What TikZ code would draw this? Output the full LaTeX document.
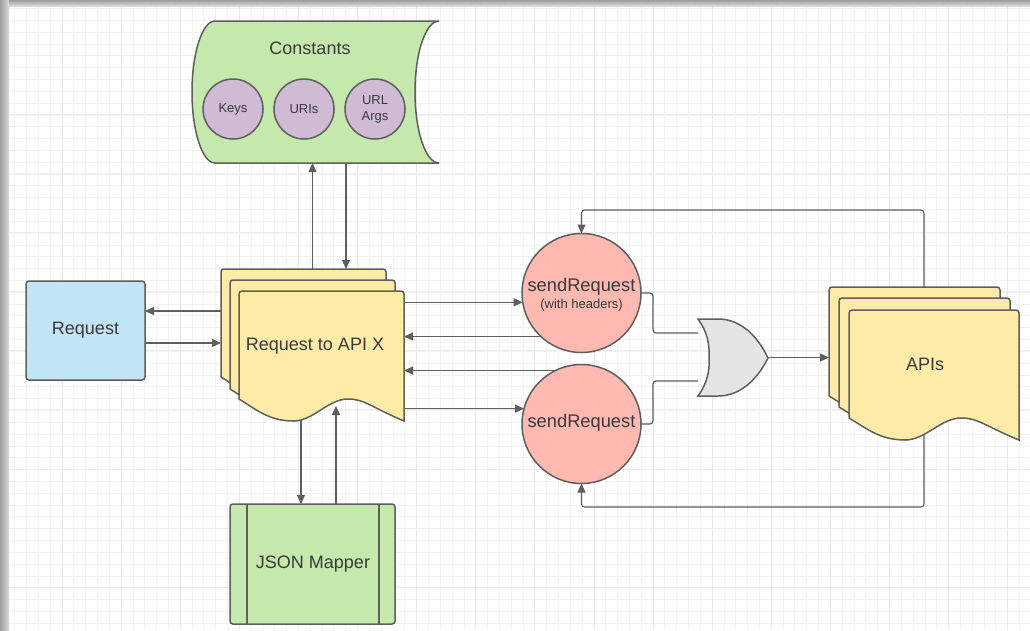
\documentclass[tikz,border=0pt]{standalone}
\usepackage{fontspec}
\setmainfont{Liberation Sans}
\usetikzlibrary{arrows.meta}
\definecolor{strokegray}{HTML}{5E5E5E}
\definecolor{textgray}{HTML}{3A3A3A}
\definecolor{mappergreen}{HTML}{C5E8AC}
\definecolor{keypurple}{HTML}{CFBBD3}
\definecolor{sheetyellow}{HTML}{FFEBA8}
\definecolor{sendred}{HTML}{FFB9B1}
\definecolor{requestblue}{HTML}{C1E4F7}
\definecolor{gatefill}{HTML}{E5E5E5}
\tikzset{
	flow/.style={draw=strokegray, line width=1.1pt, rounded corners=3pt, -{Triangle[length=9pt,width=8pt]}},
	plainflow/.style={draw=strokegray, line width=1.2pt, rounded corners=3pt},
	shapeline/.style={draw=strokegray, line width=1.5pt},
	holder/.style={rectangle, inner sep=0pt, outer sep=0pt},
	caption/.style={text=textgray, inner sep=0pt, align=center, font=\fontsize{18}{21}\selectfont},
	sendcircle/.style={shapeline, circle, fill=sendred, inner sep=0pt, outer sep=0pt, minimum size=119pt},
	keycircle/.style={shapeline, circle, fill=keypurple, text=textgray, inner sep=0pt, outer sep=0pt, minimum size=60pt, align=center, font=\fontsize{13}{16}\selectfont},
}
\def\docsheet(#1:#2:#3:#4){
	\pgfmathsetmacro\sheetw{#3-#1}
	\filldraw[shapeline, fill=sheetyellow] (#1,#4) [rounded corners=3pt] -- (#1,#2) -- (#3,#2) [sharp corners] -- (#3,#4+22)
		.. controls (#3-0.2*\sheetw,#4+8) and (#1+0.76*\sheetw,#4) .. (#1+0.66*\sheetw,#4)
		.. controls (#1+0.54*\sheetw,#4) and (#1+0.45*\sheetw,#4+22) .. (#1+0.33*\sheetw,#4+22)
		.. controls (#1+0.18*\sheetw,#4+22) and (#1+0.1*\sheetw,#4+10) .. (#1,#4) -- cycle;
}
\begin{document}
\begin{tikzpicture}[x=1pt,y=-1pt]
	%%%%% START %%%%%
	\useasboundingbox (0,0) rectangle (1030,630);
	\fill[white] (0,0) rectangle (1030,630);

	% grid
	\foreach \gx in {0,...,86}
		\draw[black!5, line width=0.9pt] ({14.8+11.82*\gx},6) -- ({14.8+11.82*\gx},630);
	\foreach \gy in {0,...,53}
		\draw[black!5, line width=0.9pt] (9,{8.6+11.82*\gy}) -- (1030,{8.6+11.82*\gy});
	\foreach \gx in {0,...,16}
		\draw[black!9, line width=1pt] ({62.1+59.1*\gx},6) -- ({62.1+59.1*\gx},630);
	\foreach \gy in {0,...,9}
		\draw[black!7, line width=1pt] (9,{55.3+59.1*\gy}) -- (1030,{55.3+59.1*\gy});
	\shade[left color=black!38, right color=black!14] (0,0) rectangle (9,630);
	\shade[top color=black!38, bottom color=black!14] (9,0) rectangle (1030,6);

	% places of the drawn shapes
	\node[holder, minimum width=183pt, minimum height=152pt] (docx) at (312.5,345) {};
	\node[holder, minimum width=190pt, minimum height=153pt] (apis) at (924,363.5) {};
	\node[holder, minimum width=247pt, minimum height=142pt] (constants) at (315.5,92) {};
	\node[holder, minimum width=70pt, minimum height=77pt] (orgate) at (733,357.5) {};

	\node[shapeline, rectangle, rounded corners=3pt, fill=requestblue, outer sep=0pt, minimum width=119pt, minimum height=99pt] (request) at (85.5,330.5) {};
	\node[shapeline, rectangle, rounded corners=3pt, fill=mappergreen, outer sep=0pt, minimum width=165pt, minimum height=120pt] (mapper) at (312.5,564) {};
	\node[sendcircle] (sendone) at (581.5,293) {};
	\node[sendcircle] (sendtwo) at (581.5,424) {};

	% connectors
	\draw[flow] ([yshift=19.5pt]request.east -| docx.west) -- ([yshift=19.5pt]request.east);
	\draw[flow] ([yshift=-12.5pt]request.east) -- ([yshift=-12.5pt]request.east -| docx.west);
	\draw[flow] (docx.north) -- (docx.north |- constants.south);
	\draw[flow] ([xshift=33.5pt]docx.north |- constants.south) -- ([xshift=33.5pt]docx.north);
	\draw[flow] ([xshift=-11.5pt,yshift=5pt]docx.south) -- ([xshift=-11.5pt]docx.south |- mapper.north);
	\draw[flow] ([xshift=23.5pt]docx.south |- mapper.north) -- ([xshift=23.5pt,yshift=15pt]docx.south);
	\draw[flow] (docx.east |- sendone.189) -- (sendone.189);
	\draw[flow] (sendone.227) -- (sendone.227 -| docx.east);
	\draw[flow] (sendtwo.116) -- (sendtwo.116 -| docx.east);
	\draw[flow] (docx.east |- sendtwo.165) -- (sendtwo.165);
	\draw[plainflow] (sendone.east) -- ++(12,0) |- ([yshift=24.5pt]orgate.west);
	\draw[plainflow] (sendtwo.east) -- ++(12,0) |- ([yshift=-23.5pt]orgate.west);
	\draw[flow] (orgate.east) -- (orgate.east -| apis.west);
	\draw[flow] (apis.north) -- ++(0,-77) -| (sendone.north);
	\draw[flow] ([yshift=25pt]apis.south) -- ++(0,92) -| (sendtwo.south);

	% constants
	\filldraw[shapeline, fill=mappergreen] (215,21) -- (439,21) .. controls (425.7,21) and (415,52.8) .. (415,92)
		.. controls (415,131.2) and (425.7,163) .. (439,163) -- (215,163)
		.. controls (202.3,163) and (192,131.2) .. (192,92) .. controls (192,52.8) and (202.3,21) .. (215,21) -- cycle;
	\node[caption] (constantstext) at (310,48) {Constants};
	\node[keycircle] (keys) at (233,109) {Keys};
	\node[keycircle] (uris) at (304,109) {URIs};
	\node[keycircle] (urlargs) at (375,109) {URL\\Args};

	% request sheets
	\docsheet(221:269:386:377)
	\docsheet(230:280:395:389)
	\docsheet(239:291:404:399)
	\node[caption] (docxtext) at (315,346) {Request to API X};

	% api sheets
	\docsheet(829:287:1000:396)
	\docsheet(839:298:1010:407)
	\docsheet(849:310:1019:418)
	\node[caption] (apistext) at (925,364) {APIs};

	% gate
	\filldraw[shapeline, fill=gatefill] (698,319) -- (718,319) .. controls (740,319) and (757,335) .. (768,358)
		.. controls (757,380) and (740,396) .. (718,396) -- (698,396)
		.. controls (707,384) and (710,370) .. (709,358) .. controls (710,345) and (707,331) .. (698,319) -- cycle;

	% mapper bars and remaining texts
	\draw[shapeline] ([xshift=17pt]mapper.north west) -- ([xshift=17pt]mapper.south west);
	\draw[shapeline] ([xshift=-16pt]mapper.north east) -- ([xshift=-16pt]mapper.south east);
	\node[caption] (requesttext) at (85.5,330) {Request};
	\node[caption] (mappertext) at (313,564) {JSON Mapper};
	\node[caption, font=\fontsize{18.3}{21}\selectfont] (sendonetext) at (581.5,287) {sendRequest};
	\node[caption, font=\fontsize{13}{16}\selectfont] (sendonesub) at (581.5,305) {(with headers)};
	\node[caption, font=\fontsize{18.3}{21}\selectfont] (sendtwotext) at (581.5,423) {sendRequest};
	%%%%% END %%%%%
\end{tikzpicture}
\end{document}
